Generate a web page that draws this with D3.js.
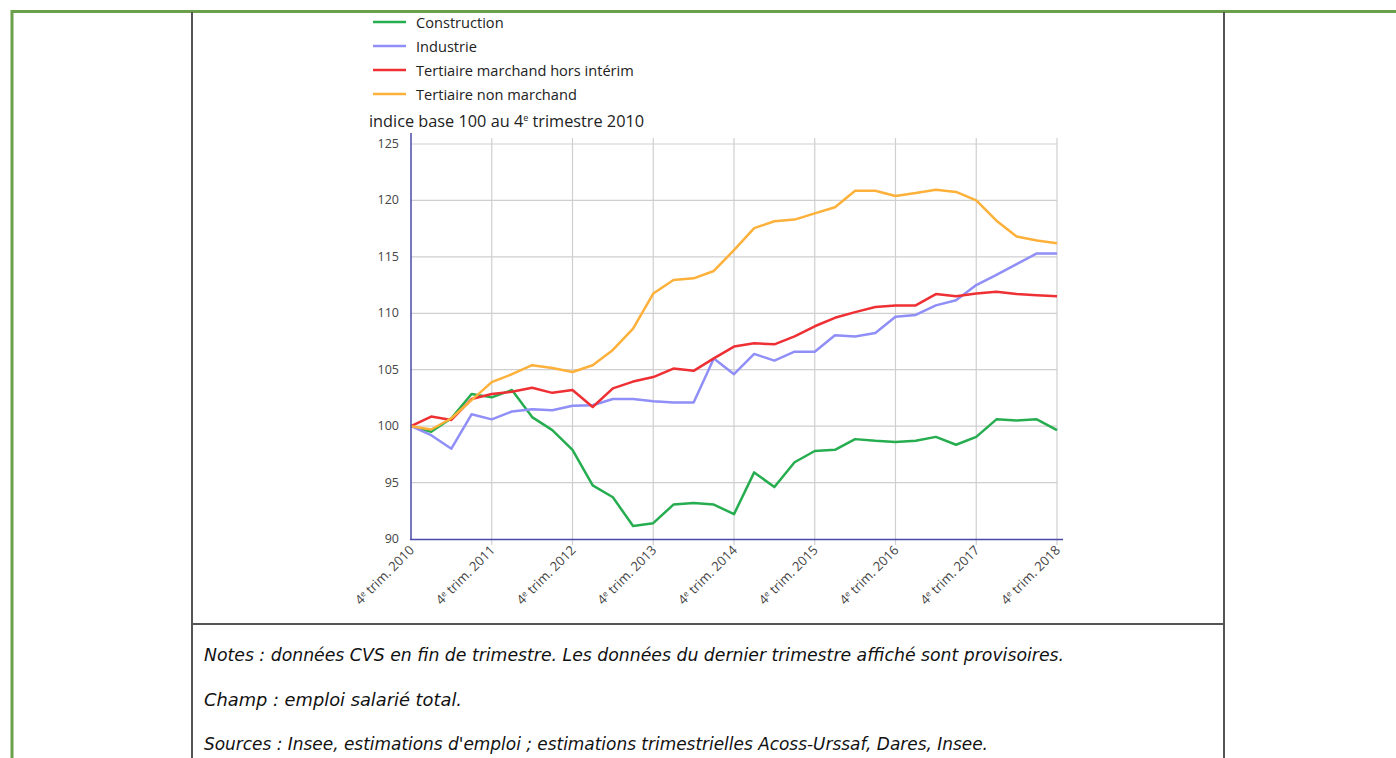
<!DOCTYPE html>
<html>
<head>
<meta charset="utf-8">
<script src="https://cdn.jsdelivr.net/npm/d3@7"></script>
<style>
  body { margin: 0; background: #fff; }
  svg { display: block; }
</style>
</head>
<body>
<script>
    // one value per quarter, 4e trim. 2010 -> 4e trim. 2018
    var construction = [100, 99.5, 100.7, 102.85, 102.55, 103.2, 100.8, 99.65, 97.9, 94.75, 93.7, 91.15, 91.4, 93.05, 93.2, 93.05,
        92.2, 95.9, 94.6, 96.8, 97.8, 97.9, 98.85, 98.7, 98.6, 98.7, 99.05, 98.35, 99.05, 100.6, 100.5, 100.6, 99.65];
    var industrie = [100, 99.2, 98.0, 101.05, 100.6, 101.3, 101.5, 101.4, 101.8, 101.85, 102.4, 102.4, 102.2, 102.1, 102.1, 106.0,
        104.6, 106.4, 105.8, 106.6, 106.6, 108.05, 107.95, 108.25, 109.7, 109.85, 110.7, 111.15, 112.5, 113.4, 114.35, 115.3, 115.3];
    var tertMarchand = [100, 100.85, 100.55, 102.4, 102.85, 103.05, 103.4, 102.95, 103.2, 101.7, 103.35, 103.95, 104.35, 105.1, 104.9, 106.0,
        107.05, 107.35, 107.25, 107.95, 108.85, 109.6, 110.1, 110.55, 110.7, 110.7, 111.7, 111.5, 111.75, 111.9, 111.7, 111.6, 111.5];
    var tertNonMarchand = [100, 99.7, 100.7, 102.3, 103.9, 104.6, 105.4, 105.15, 104.8, 105.4, 106.75, 108.65, 111.75, 112.95, 113.1, 113.75,
        115.6, 117.55, 118.15, 118.3, 118.85, 119.4, 120.85, 120.85, 120.4, 120.65, 120.95, 120.75, 120.0, 118.2, 116.8, 116.45, 116.2];

    var seriesNames = ["Construction", "Industrie", "Tertiaire marchand hors intérim", "Tertiaire non marchand"];
    var seriesColors = ["#26ad4f", "#8f8ff7", "#ee3035", "#fdb03a"];
    var tickYears = [2010, 2011, 2012, 2013, 2014, 2015, 2016, 2017, 2018];
    var yTicks = [90, 95, 100, 105, 110, 115, 120, 125];

    var notes = [
        "Notes : données CVS en fin de trimestre. Les données du dernier trimestre affiché sont provisoires.",
        "Champ : emploi salarié total.",
        "Sources : Insee, estimations d'emploi ; estimations trimestrielles Acoss-Urssaf, Dares, Insee."
    ];
    var notesWidth = [860, 258, 784];

    var W = 1396, H = 758;
    var svg = d3.select("body").append("svg").attr("width", W).attr("height", H);

    // page frame
    svg.append("line").attr("x1", 11).attr("x2", W).attr("y1", 11.5).attr("y2", 11.5)
        .attr("stroke", "#6b9f4b").attr("stroke-width", 3);
    svg.append("line").attr("x1", 12).attr("x2", 12).attr("y1", 10).attr("y2", H)
        .attr("stroke", "#6b9f4b").attr("stroke-width", 3);
    svg.append("line").attr("x1", 192).attr("x2", 192).attr("y1", 12).attr("y2", H)
        .attr("stroke", "#555").attr("stroke-width", 2);
    svg.append("line").attr("x1", 1224).attr("x2", 1224).attr("y1", 12).attr("y2", H)
        .attr("stroke", "#555").attr("stroke-width", 2);
    svg.append("line").attr("x1", 192).attr("x2", 1224).attr("y1", 624).attr("y2", 624)
        .attr("stroke", "#555").attr("stroke-width", 2);

    var x = d3.scaleLinear().domain([0, 32]).range([411, 1057]);
    var y = d3.scaleLinear().domain([90, 125]).range([539, 144]);

    var g = svg.append("g").attr("font-family", "'Open Sans', sans-serif");

    // grid
    g.selectAll(".hgrid").data(yTicks.slice(1)).enter().append("line")
        .attr("x1", x(0)).attr("x2", x(32))
        .attr("y1", function(d){ return y(d); }).attr("y2", function(d){ return y(d); })
        .attr("stroke", "#cfcfcf").attr("stroke-width", 1.2);
    g.selectAll(".vgrid").data(tickYears.slice(1)).enter().append("line")
        .attr("x1", function(d, i){ return x((i + 1) * 4); }).attr("x2", function(d, i){ return x((i + 1) * 4); })
        .attr("y1", 138).attr("y2", 545)
        .attr("stroke", "#cfcfcf").attr("stroke-width", 1.2);

    // y labels
    g.selectAll(".ylab").data(yTicks).enter().append("text")
        .attr("x", 399).attr("y", function(d){ return y(d) + 4; })
        .attr("text-anchor", "end").attr("font-size", 12.5).attr("fill", "#444")
        .text(function(d){ return d; });

    // x labels
    var xl = g.selectAll(".xlab").data(tickYears).enter().append("text")
        .attr("transform", function(d, i){ return "translate(" + (x(i * 4) + 4) + ",551) rotate(-45)"; })
        .attr("text-anchor", "end").attr("font-size", 13).attr("fill", "#444");
    xl.append("tspan").text("4");
    xl.append("tspan").attr("font-size", 8).attr("dy", -4).text("e");
    xl.append("tspan").attr("dy", 4).text(function(d){ return " trim. " + d; });

    // lines
    var allSeries = [construction, industrie, tertMarchand, tertNonMarchand];
    var line = d3.line().x(function(d, i){ return x(i); }).y(function(d){ return y(d); });
    g.selectAll(".serie").data(allSeries).enter().append("path")
        .attr("d", line).attr("fill", "none")
        .attr("stroke", function(d, i){ return seriesColors[i]; })
        .attr("stroke-width", 2.5).attr("stroke-linejoin", "round");

    // axes
    g.append("line").attr("x1", 411).attr("x2", 411).attr("y1", 133).attr("y2", 540)
        .attr("stroke", "#4a4aa8").attr("stroke-width", 1.5);
    g.append("line").attr("x1", 410).attr("x2", 1063).attr("y1", 539.5).attr("y2", 539.5)
        .attr("stroke", "#4a4aa8").attr("stroke-width", 1.5);

    // legend
    var leg = g.selectAll(".leg").data(seriesNames).enter().append("g")
        .attr("transform", function(d, i){ return "translate(373," + (22 + i * 24) + ")"; });
    leg.append("line").attr("x1", 0).attr("x2", 33).attr("y1", 0).attr("y2", 0)
        .attr("stroke", function(d, i){ return seriesColors[i]; }).attr("stroke-width", 2.5);
    leg.append("text").attr("x", 43).attr("y", 5.5).attr("font-size", 14.6).attr("fill", "#222")
        .text(function(d){ return d; });

    // unit title
    var t = g.append("text").attr("x", 369).attr("y", 127).attr("font-size", 16.3).attr("fill", "#222");
    t.append("tspan").text("indice base 100 au 4");
    t.append("tspan").attr("font-size", 9).attr("dy", -6).text("e");
    t.append("tspan").attr("dy", 6).text(" trimestre 2010");

    // notes
    svg.selectAll(".note").data(notes).enter().append("text")
        .attr("x", 204).attr("y", function(d, i){ return 661 + i * 44.5; })
        .attr("font-family", "'DejaVu Sans Condensed', 'DejaVu Sans', sans-serif")
        .attr("font-style", "italic").attr("font-size", 18).attr("fill", "#111")
        .attr("textLength", function(d, i){ return notesWidth[i]; })
        .attr("lengthAdjust", "spacingAndGlyphs")
        .text(function(d){ return d; });
</script>
</body>
</html>
